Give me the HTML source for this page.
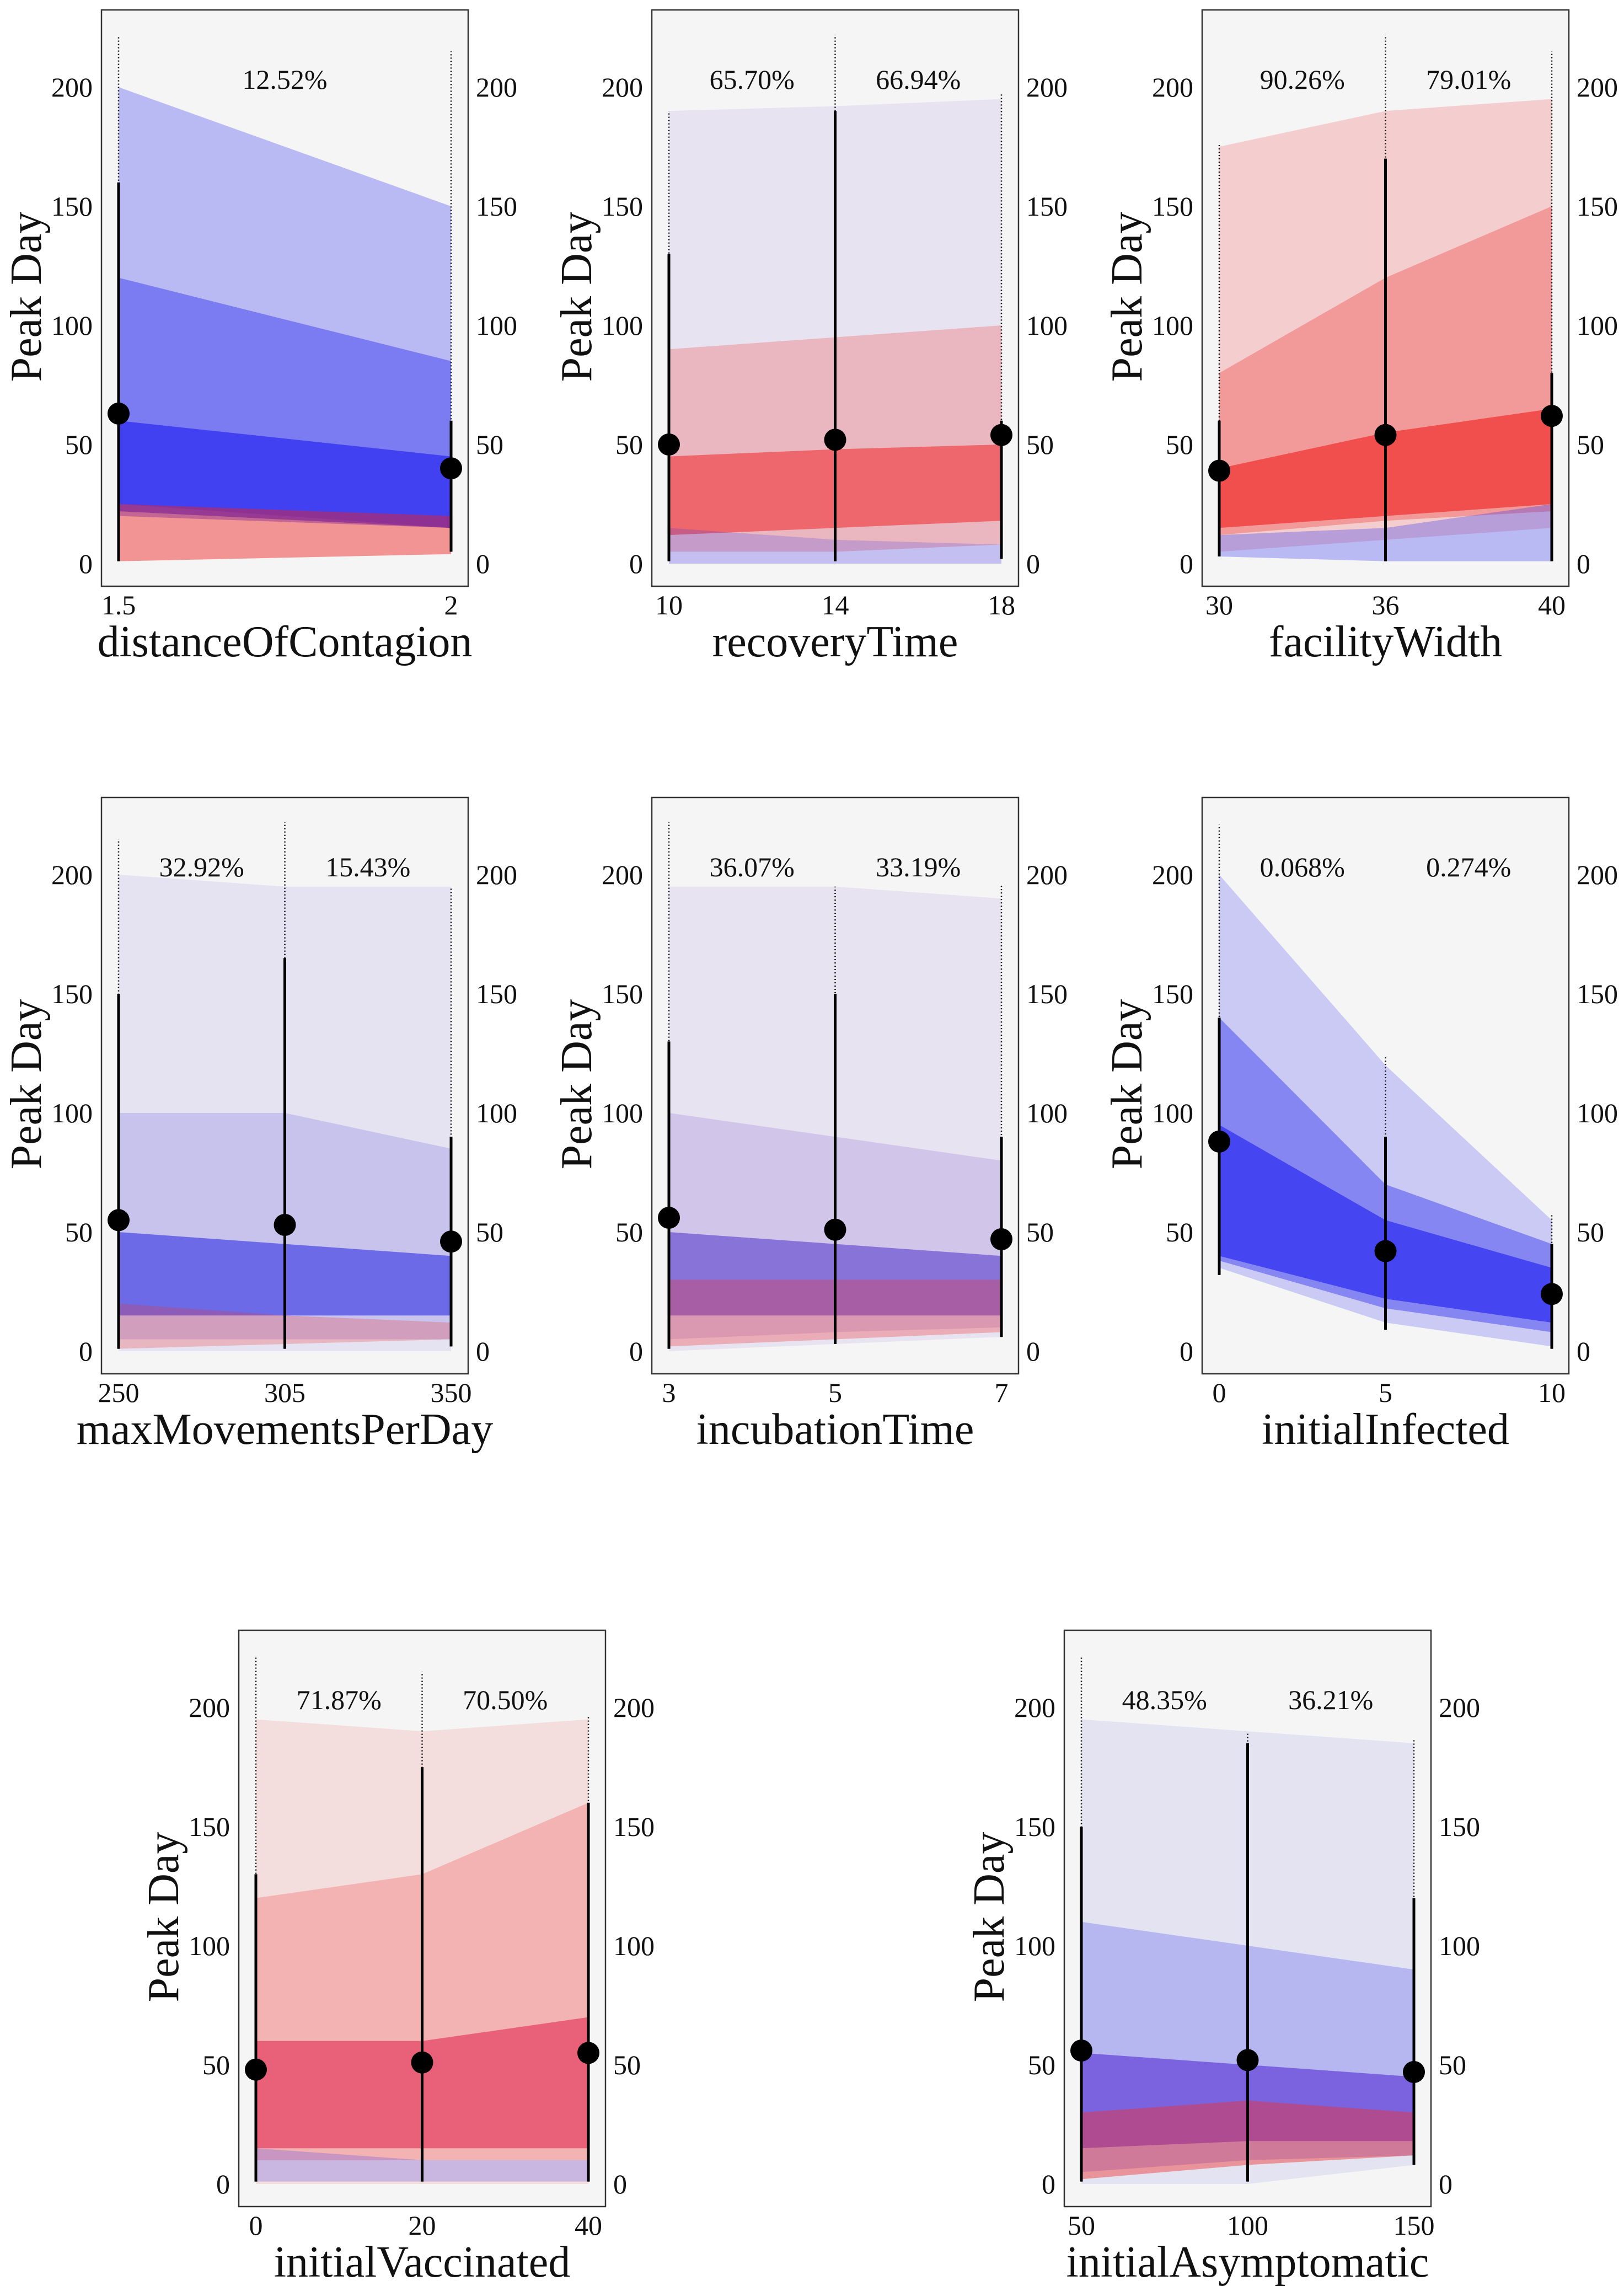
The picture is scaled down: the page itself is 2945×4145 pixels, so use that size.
<!DOCTYPE html>
<html><head><meta charset="utf-8"><style>
html,body{margin:0;padding:0;background:#fff;}
svg{display:block;font-family:"Liberation Serif",serif;}
</style></head><body>
<svg id="fig" width="2945" height="4145" viewBox="0 0 2945 4145" xmlns="http://www.w3.org/2000/svg"></svg>
<script>
// ---- data ----
const panelNames = ["distanceOfContagion","recoveryTime","facilityWidth","maxMovementsPerDay","incubationTime","initialInfected","initialVaccinated","initialAsymptomatic"];
const xTickLabels = [["1.5","2"],["10","14","18"],["30","36","40"],["250","305","350"],["3","5","7"],["0","5","10"],["0","20","40"],["50","100","150"]];
const meanValues = [[63,40],[50,52,54],[39,54,62],[55,53,46],[56,51,47],[88,42,24],[48,51,55],[56,52,47]];
const percentLabels = [["12.52%"],["65.70%","66.94%"],["90.26%","79.01%"],["32.92%","15.43%"],["36.07%","33.19%"],["0.068%","0.274%"],["71.87%","70.50%"],["48.35%","36.21%"]];
const columnMin = [[1,5],[1,1,2],[3,1,1],[1,1,2],[1,3,6],[32,9,1],[1,1,1],[1,1,8]];
const columnMax = [[221,215],[190,222,197],[176,222,215],[215,222,195],[222,195,196],[221,124,58],[221,215,196],[221,189,187]];
const columnDenseTop = [[160,60],[130,190,60],[60,170,80],[150,165,90],[130,150,90],[140,90,45],[130,175,160],[150,185,120]];
const yTicks = [0,50,100,150,200];
// bands of line density: colour, opacity, lower values, upper values
const bandColors = [
 ["#3030f0","#2020f0","#1010f0","#f02020"],
 ["#a080d8","#f03030","#f01818","#3030f0"],
 ["#f03030","#f02020","#f01010","#3030f0"],
 ["#8a80e0","#6050e0","#2020e0","#f03030"],
 ["#a080e0","#8060d0","#4020c8","#f03030"],
 ["#3030f0","#2020f0","#1010f0"],
 ["#f04040","#f02020","#e01040","#3030f0"],
 ["#8080e0","#3030f0","#4010d0","#f03030"]];
const bandOpacity = [[0.3,0.4,0.55,0.45],[0.15,0.25,0.5,0.2],[0.2,0.3,0.55,0.3],[0.15,0.22,0.55,0.25],[0.15,0.22,0.5,0.3],[0.22,0.4,0.55],[0.13,0.22,0.5,0.22],[0.15,0.25,0.5,0.45]];
const bandLo = [
 [[25,15],[20,15],[22,15],[1,4]],
 [[0,0,0],[5,5,8],[12,15,18],[0,0,0]],
 [[5,10,15],[12,18,22],[15,20,25],[3,1,1]],
 [[0,0,0],[5,5,5],[15,15,15],[1,3,5]],
 [[0,3,6],[5,8,10],[15,15,15],[2,5,8]],
 [[35,12,2],[38,18,8],[40,22,12]],
 [[0,0,0],[10,10,10],[15,15,15],[1,1,1]],
 [[0,0,8],[5,10,12],[15,18,18],[2,8,12]]];
const bandHi = [
 [[200,150],[120,85],[60,45],[25,20]],
 [[190,192,195],[90,95,100],[45,48,50],[15,10,8]],
 [[175,190,195],[80,120,150],[40,55,65],[12,15,25]],
 [[200,195,195],[100,100,85],[50,45,40],[20,15,12]],
 [[195,195,190],[100,90,80],[50,45,40],[30,30,30]],
 [[200,120,55],[140,70,45],[95,55,35]],
 [[195,190,195],[120,130,160],[60,60,70],[15,10,10]],
 [[195,190,185],[110,100,90],[55,50,45],[30,35,30]]];

// ---- layout ----
const W=665,H=1045;
const boxPos=[[184,18],[1182,18],[2180,18],[184,1446],[1182,1446],[2180,1446],[433,2956],[1930,2956]];
const NS="http://www.w3.org/2000/svg";
const svg=document.getElementById('fig');
function mk(tag,attrs,parent){const e=document.createElementNS(NS,tag);for(const k in attrs)e.setAttribute(k,attrs[k]);(parent||svg).appendChild(e);return e;}

panelNames.forEach((name,p)=>{
  const [L,T]=boxPos[p];
  const n=xTickLabels[p].length;
  const xs=i=>L+31+i*(W-62)/(n-1);
  const ys=v=>T+1004-v*4.32;
  const g=mk('g',{});
  
  
  const bg=mk('rect',{x:L,y:T,width:W,height:H,fill:'#f5f5f5'},g);
  
  
  bandLo[p].forEach((lo,b)=>{
    const hi=bandHi[p][b];
    let pts=[];
    for(let i=0;i<n;i++)pts.push(xs(i)+','+ys(hi[i]));
    for(let i=n-1;i>=0;i--)pts.push(xs(i)+','+ys(lo[i]));
    const poly=mk('polygon',{points:pts.join(' '),fill:bandColors[p][b],'fill-opacity':bandOpacity[p][b]},g);
    
    
  });
  for(let i=0;i<n;i++){
    const c=mk('line',{x1:xs(i),x2:xs(i),y1:ys(columnMin[p][i]),y2:ys(columnMax[p][i]),stroke:'#000',"stroke-width":2.5,"stroke-dasharray":"2 4"},g);
    
    
    const c2=mk('line',{x1:xs(i),x2:xs(i),y1:ys(columnMin[p][i]),y2:ys(columnDenseTop[p][i]),stroke:'#000',"stroke-width":5},g);
    
    
  }
  meanValues[p].forEach((m,i)=>{
    const c=mk('circle',{cx:xs(i),cy:ys(m),r:20,fill:'#000'},g);
    
    
  });
  const fr=mk('rect',{x:L,y:T,width:W,height:H,fill:'none',stroke:'#333','stroke-width':2.5},g);
  
  
  yTicks.forEach(v=>{
    const t1=mk('text',{x:L-16,y:ys(v)+17,'font-size':50,'text-anchor':'end',fill:'#111'},g);
    t1.textContent=v;
    
    
    const t2=mk('text',{x:L+W+14,y:ys(v)+17,'font-size':50,'text-anchor':'start',fill:'#111'},g);
    t2.textContent=v;
    
    
  });
  xTickLabels[p].forEach((lab,i)=>{
    const t=mk('text',{x:xs(i),y:T+1096,'font-size':50,'text-anchor':'middle',fill:'#111'},g);
    t.textContent=lab;
    
    
  });
  percentLabels[p].forEach((lab,i)=>{
    const t=mk('text',{x:(xs(i)+xs(i+1))/2,y:T+143,'font-size':50,'text-anchor':'middle',fill:'#111'},g);
    t.textContent=lab;
    
    
  });
  const xl=mk('text',{x:L+W/2,y:T+1172,'font-size':80,'text-anchor':'middle',fill:'#111'},g);
  xl.textContent=name;
  
  
  const cy=T+520;
  const yl=mk('text',{x:L-110,y:cy,'font-size':80,'text-anchor':'middle',fill:'#111',transform:`rotate(-90 ${L-110} ${cy})`},g);
  yl.textContent='Peak Day';
  
  
});
</script>
</body></html>
